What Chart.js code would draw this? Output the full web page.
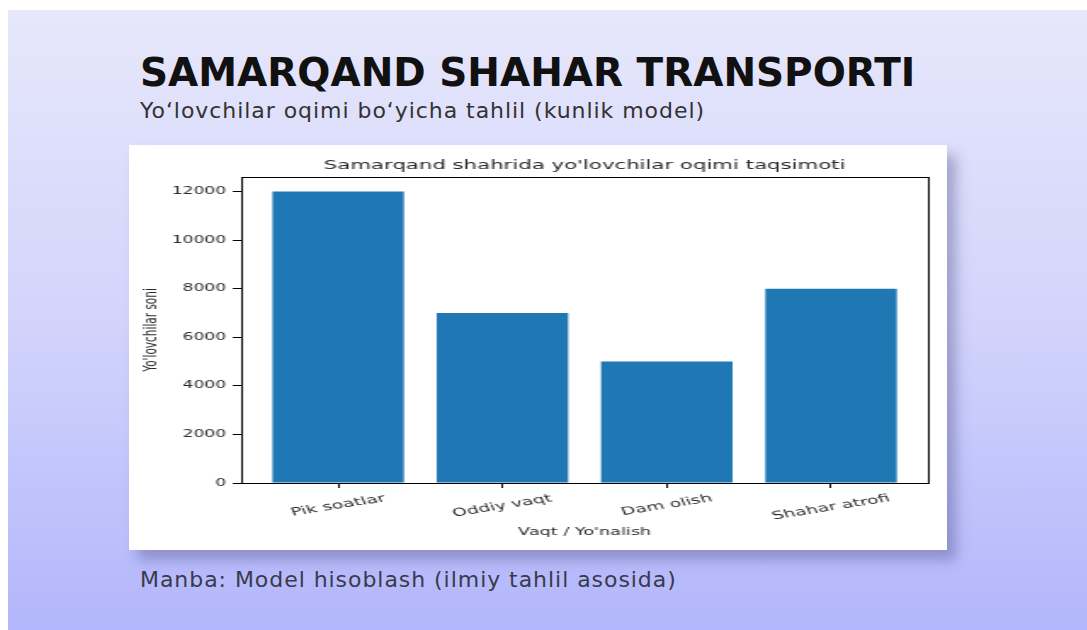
<!DOCTYPE html>
<html>
<head>
<meta charset="utf-8">
<script src="https://cdn.jsdelivr.net/npm/chart.js@4/dist/chart.umd.min.js"></script>
<style>
  html, body { margin: 0; padding: 0; background: #fff; }
  body { width: 1087px; height: 630px; position: relative; overflow: hidden; font-family: "DejaVu Sans", sans-serif; }
  .slide {
    position: absolute; left: 8px; top: 10px; width: 1079px; height: 620px;
    background: linear-gradient(to bottom, #e7e7fb 0%, #d2d4fb 50%, #b2b6fb 100%);
  }
  .txt { position: absolute; left: 140px; white-space: nowrap; line-height: 1; }
  .title { top: 53px; font-size: 39px; font-weight: bold; color: #111; }
  .sub { top: 100px; font-size: 22px; letter-spacing: 0.95px; color: #333; }
  .foot { top: 569px; font-size: 22px; letter-spacing: 0.95px; color: #3a3a4c; }
  .card {
    position: absolute; left: 129px; top: 145px; width: 818px; height: 405px;
    background: #fff; box-shadow: 9px 10px 12px rgba(70, 70, 130, 0.38);
  }
  .stretch { position: absolute; left: 0; top: 0; transform: scaleX(1.7); transform-origin: 0 0; }
</style>
</head>
<body>
<div class="slide"></div>
<div class="txt title">SAMARQAND SHAHAR TRANSPORTI</div>
<div class="txt sub">Yo‘lovchilar oqimi bo‘yicha tahlil (kunlik model)</div>
<div class="card">
  <div class="stretch"><canvas id="chart" width="481" height="405"></canvas></div>
</div>
<div class="txt foot">Manba: Model hisoblash (ilmiy tahlil asosida)</div>

<script>
// ma'lumotlar
const categories = ["Pik soatlar", "Oddiy vaqt", "Dam olish", "Shahar atrofi"];
const passengers = [12000, 7000, 5000, 8000];
const yTicks = [0, 2000, 4000, 6000, 8000, 10000, 12000];

const chartTitle = "Samarqand shahrida yo'lovchilar oqimi taqsimoti";
const xTitle = "Vaqt / Yo'nalish";
const yTitle = "Yo'lovchilar soni";

Chart.defaults.font.family = "'DejaVu Sans', sans-serif";
Chart.defaults.color = "#2a2a2a";

// matplotlib style: rotated labels centred under the tick
const xLabels = {
  id: "xLabels",
  afterDraw(chart) {
    const { ctx, chartArea, scales } = chart;
    const a = 15 * Math.PI / 180;
    ctx.save();
    ctx.font = "11px 'DejaVu Sans'";
    ctx.fillStyle = "#2a2a2a";
    ctx.textAlign = "center";
    ctx.textBaseline = "middle";
    categories.forEach((lab, i) => {
      const w = ctx.measureText(lab).width;
      const half = (w / 2) * Math.sin(a) + 6.5 * Math.cos(a);
      ctx.save();
      ctx.translate(scales.x.getPixelForValue(i), chartArea.bottom + 5 + 4 + half);
      ctx.rotate(-a);
      ctx.fillText(lab, 0, 0);
      ctx.restore();
    });
    ctx.restore();
  },
};

new Chart(document.getElementById("chart"), {
  type: "bar",
  data: {
    datasets: [
      {
        data: passengers.map((v, i) => ({ x: i, y: v })),
        backgroundColor: "#1f77b4",
        borderWidth: 0,
        barPercentage: 0.8,
        categoryPercentage: 1,
        xAxisID: "x",
        yAxisID: "y",
      },
    ],
  },
  options: {
    responsive: false,
    maintainAspectRatio: false,
    devicePixelRatio: 1,
    animation: false,
    layout: { padding: 0 },
    plugins: { legend: { display: false }, tooltip: { enabled: false }, title: { display: false } },
    scales: {
      x: {
        type: "linear",
        position: "bottom",
        min: -0.59,
        max: 3.59,
        offset: false,
        afterBuildTicks: (s) => { s.ticks = categories.map((c, i) => ({ value: i })); },
        afterFit: (s) => { s.height = 67; },
        ticks: { display: false },
        grid: { offset: false, drawOnChartArea: false, drawTicks: true, tickLength: 5, color: "#000" },
        border: { display: true, color: "#000", width: 1 },
        title: { display: true, text: xTitle, font: { size: 10.4 }, color: "#2a2a2a", padding: { top: 0, bottom: 11.5 } },
      },
      xTop: {
        type: "linear",
        position: "top",
        afterFit: (s) => { s.height = 32; },
        ticks: { display: false },
        grid: { display: false, drawTicks: false },
        border: { display: true, color: "#000", width: 1 },
        title: { display: true, text: chartTitle, font: { size: 12.5 }, color: "#2a2a2a", padding: { top: 13.5, bottom: 0 } },
      },
      y: {
        type: "linear",
        position: "left",
        min: 0,
        max: 12600,
        afterBuildTicks: (s) => { s.ticks = yTicks.map((v) => ({ value: v })); },
        afterFit: (s) => { s.width = 66; },
        ticks: { font: { size: 10 }, color: "#2a2a2a", padding: 4, callback: (v) => String(v) },
        grid: { drawOnChartArea: false, drawTicks: true, tickLength: 5, color: "#000" },
        border: { display: true, color: "#000", width: 1 },
        title: { display: true, text: yTitle, font: { size: 10.5 }, color: "#2a2a2a", padding: { top: 7.3, bottom: 0 } },
      },
      yRight: {
        type: "linear",
        position: "right",
        afterFit: (s) => { s.width = 11; },
        ticks: { display: false },
        grid: { display: false, drawTicks: false },
        border: { display: true, color: "#000", width: 1 },
      },
    },
  },
  plugins: [xLabels],
});
</script>
</body>
</html>
